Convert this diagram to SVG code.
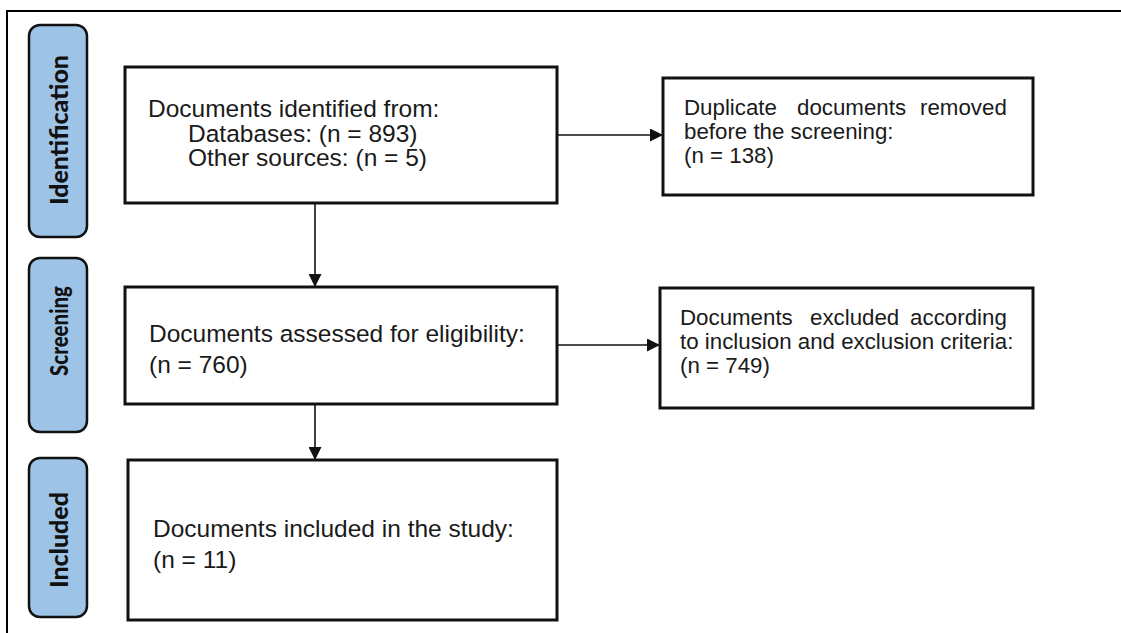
<svg xmlns="http://www.w3.org/2000/svg" width="1121" height="633" viewBox="0 0 1121 633">
  <style>
    .frame { fill: none; stroke: #000; stroke-width: 2; }
    .stage { fill: #9dc3e6; stroke: #111; stroke-width: 2.5; }
    .stage-label { font-family: Lato, "Open Sans", "Liberation Sans", sans-serif; font-weight: 900; font-size: 25px; fill: #111; text-anchor: middle; }
    .box { fill: #fff; stroke: #111; stroke-width: 3; }
    .txt { font-family: "Liberation Sans", Arial, sans-serif; font-size: 24.5px; fill: #1a1a1a; }
    .txt-s { font-family: "Liberation Sans", Arial, sans-serif; font-size: 22.3px; fill: #1a1a1a; }
    .link { fill: none; stroke: #111; stroke-width: 1.6; }
  </style>
  <defs>
    <marker id="arrow" viewBox="0 0 12 12" refX="12" refY="6" markerWidth="13" markerHeight="13" markerUnits="userSpaceOnUse" orient="auto">
      <path d="M0,0 L12,6 L0,12 Z" fill="#111"/>
    </marker>
  </defs>

  <rect width="1121" height="633" fill="#fff"/>

  <!-- outer frame: top and left edges -->
  <path class="frame" d="M7,633 V11 H1121"/>

  <!-- stage labels -->
  <g id="stage-identification">
    <rect class="stage" x="29" y="25" width="58" height="212" rx="11"/>
    <text class="stage-label" transform="translate(68,130) rotate(-90)" textLength="150" lengthAdjust="spacingAndGlyphs">Identification</text>
  </g>
  <g id="stage-screening">
    <rect class="stage" x="29" y="258" width="58" height="174" rx="11"/>
    <text class="stage-label" transform="translate(68,331) rotate(-90)" textLength="90" lengthAdjust="spacingAndGlyphs">Screening</text>
  </g>
  <g id="stage-included">
    <rect class="stage" x="29" y="458" width="58" height="159" rx="11"/>
    <text class="stage-label" transform="translate(68,540) rotate(-90)" textLength="96" lengthAdjust="spacingAndGlyphs">Included</text>
  </g>

  <!-- connectors -->
  <g id="connectors">
    <line class="link" x1="557" y1="135" x2="663" y2="135" marker-end="url(#arrow)"/>
    <line class="link" x1="557" y1="345" x2="660" y2="345" marker-end="url(#arrow)"/>
    <line class="link" x1="315" y1="203" x2="315" y2="287" marker-end="url(#arrow)"/>
    <line class="link" x1="315" y1="404" x2="315" y2="460" marker-end="url(#arrow)"/>
  </g>

  <!-- flow boxes -->
  <g id="identified">
    <rect class="box" x="125" y="67" width="432" height="136"/>
    <text class="txt">
      <tspan x="148" y="117">Documents identified from:</tspan>
      <tspan x="188" y="141.7">Databases: (n = 893)</tspan>
      <tspan x="188" y="166">Other sources: (n = 5)</tspan>
    </text>
  </g>

  <g id="duplicates">
    <rect class="box" x="663" y="78" width="370" height="117"/>
    <text class="txt-s">
      <tspan x="684" y="115">Duplicate</tspan>
      <tspan x="797" y="115">documents</tspan>
      <tspan x="1013" y="115" text-anchor="end">removed</tspan>
      <tspan x="684" y="139">before the screening:</tspan>
      <tspan x="684" y="162.5">(n = 138)</tspan>
    </text>
  </g>

  <g id="assessed">
    <rect class="box" x="125" y="287" width="432" height="117"/>
    <text class="txt">
      <tspan x="149" y="342">Documents assessed for eligibility:</tspan>
      <tspan x="149" y="373">(n = 760)</tspan>
    </text>
  </g>

  <g id="excluded">
    <rect class="box" x="660" y="288" width="373" height="120"/>
    <text class="txt-s">
      <tspan x="680" y="325">Documents</tspan>
      <tspan x="810" y="325">excluded</tspan>
      <tspan x="1013" y="325" text-anchor="end">according</tspan>
      <tspan x="680" y="349">to inclusion and exclusion criteria:</tspan>
      <tspan x="680" y="373">(n = 749)</tspan>
    </text>
  </g>

  <g id="included">
    <rect class="box" x="128" y="460" width="429" height="160"/>
    <text class="txt">
      <tspan x="153" y="537">Documents included in the study:</tspan>
      <tspan x="153" y="568">(n = 11)</tspan>
    </text>
  </g>
</svg>
